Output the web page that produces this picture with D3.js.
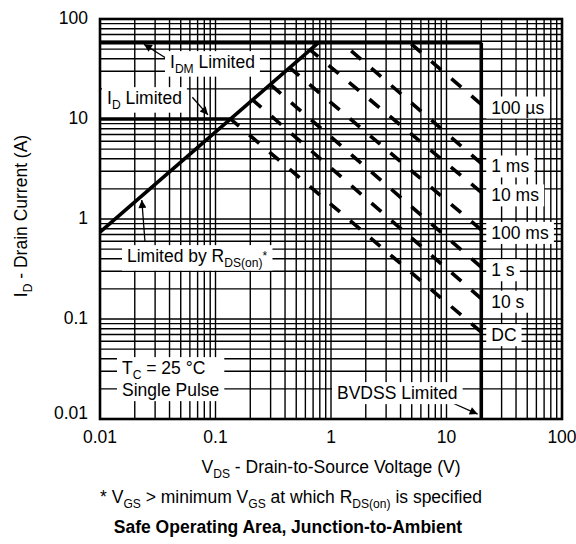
<!DOCTYPE html>
<html>
<head>
<meta charset="utf-8">
<script src="https://d3js.org/d3.v7.min.js"></script>
<style>
  body { margin: 0; background: #fff; }
  text { font-family: "Liberation Sans", Arial, Helvetica, sans-serif; fill: #000; }
</style>
</head>
<body>
<script>
// axis ticks
var xTicks = [0.01, 0.1, 1, 10, 100];
var xTickLabels = ["0.01", "0.1", "1", "10", "100"];
var yTicks = [0.01, 0.1, 1, 10, 100];
var yTickLabels = ["0.01", "0.1", "1", "10", "100"];

// limit lines (V, A)
var rdsV = [0.01, 0.78], rdsI = [0.74, 58];
var idmV = [0.01, 20],   idmI = [58, 58];
var idV  = [0.01, 0.135], idI = [10, 10];
var bvV  = [20, 20],     bvI  = [58, 0.01];

// pulse width lines, start on the limit, end on BVDSS
var pulseLabels = ["100 µs", "1 ms", "10 ms", "100 ms", "1 s", "10 s", "DC"];
var pulseStartV = [4.8, 1.24, 0.66, 0.44, 0.30, 0.21, 0.135];
var pulseStartI = [58, 58, 49, 32.5, 22, 15.5, 10];
var pulseEndV   = [20, 20, 20, 20, 20, 20, 20];
var pulseEndI   = [14, 3.6, 1.85, 0.78, 0.33, 0.16, 0.074];

var W = 576, H = 544;
var pL = 100, pT = 19, pR = 562, pB = 419;
var FS = 17.5;

var svg = d3.select("body").append("svg").attr("width", W).attr("height", H);
var x = d3.scaleLog().domain([0.01, 100]).range([pL, pR]);
var y = d3.scaleLog().domain([0.01, 100]).range([pB, pT]);

// grid: every 1..9 of each decade
var grid = [];
for (var e = -2; e < 2; e++) for (var k = 1; k <= 9; k++) grid.push(+(k * Math.pow(10, e)).toPrecision(3));
grid.push(100);

var g = svg.append("g");
g.selectAll("line.vg").data(grid).enter().append("line")
  .attr("x1", d => x(d)).attr("x2", d => x(d))
  .attr("y1", pT).attr("y2", pB)
  .attr("stroke", "#000").attr("stroke-width", 1.4);
g.selectAll("line.hg").data(grid).enter().append("line")
  .attr("y1", d => y(d)).attr("y2", d => y(d))
  .attr("x1", pL).attr("x2", pR)
  .attr("stroke", "#000").attr("stroke-width", 1.4);

// text with sub/superscripts: parts = [[str, "sub"|"sup"|""], ...]
function rich(sel, parts, size) {
  size = size || FS;
  var sub = size * 0.69, off = size * 0.26;
  var cur = 0;
  parts.forEach(function (p) {
    var t = sel.append("tspan").text(p[0]);
    var want = p[1] === "sub" ? off : p[1] === "sup" ? -size * 0.12 : 0;
    if (want !== cur) t.attr("dy", want - cur);
    if (p[1]) t.attr("font-size", sub);
    cur = want;
  });
  return sel;
}

var lineLayer = svg.append("g");
var textLayer = svg.append("g");

// label centred vertically on py, white box behind it
function boxedText(px, py, lines, anchor) {
  var grp = textLayer.append("g");
  lines.forEach(function (parts, i) {
    var t = grp.append("text")
      .attr("x", px).attr("y", py + i * 22 + FS * 0.35)
      .attr("font-size", FS)
      .attr("text-anchor", anchor || "start");
    rich(t, parts);
  });
  var b = grp.node().getBBox();
  grp.insert("rect", ":first-child")
    .attr("x", b.x - 5).attr("y", b.y - 1)
    .attr("width", b.width + 10).attr("height", b.height + 2)
    .attr("fill", "#fff");
}

// limit lines
var line = d3.line().x(d => x(d[0])).y(d => y(d[1]));
[[rdsV, rdsI], [idmV, idmI], [idV, idI], [bvV, bvI]].forEach(function (s) {
  lineLayer.append("path")
    .attr("d", line(d3.zip(s[0], s[1])))
    .attr("fill", "none").attr("stroke", "#000")
    .attr("stroke-width", 3.6);
});

// pulse lines, drawn from the BVDSS end so a dash touches it
pulseLabels.forEach(function (lab, i) {
  lineLayer.append("path")
    .attr("d", line([[pulseEndV[i], pulseEndI[i]], [pulseStartV[i], pulseStartI[i]]]))
    .attr("fill", "none").attr("stroke", "#000")
    .attr("stroke-width", 3.6).attr("stroke-dasharray", "13,13.5");
});

// frame
svg.append("rect")
  .attr("x", pL).attr("y", pT)
  .attr("width", pR - pL).attr("height", pB - pT)
  .attr("fill", "none").attr("stroke", "#000").attr("stroke-width", 2.6);

// arrows
svg.append("defs").append("marker")
  .attr("id", "ah").attr("viewBox", "0 0 10 10")
  .attr("refX", 10).attr("refY", 5)
  .attr("markerWidth", 10).attr("markerHeight", 8)
  .attr("markerUnits", "userSpaceOnUse")
  .attr("orient", "auto")
  .append("path").attr("d", "M0,0L10,5L0,10z").attr("fill", "#000");

var arrows = [
  [[0.038, 40], [0.024, 56]],
  [[0.063, 16.5], [0.086, 11]],
  [[0.0245, 0.6], [0.023, 1.55]],
  [[10.8, 0.0148], [18.6, 0.0112]]
];
arrows.forEach(function (a) {
  textLayer.append("line")
    .attr("x1", x(a[0][0])).attr("y1", y(a[0][1]))
    .attr("x2", x(a[1][0])).attr("y2", y(a[1][1]))
    .attr("stroke", "#000").attr("stroke-width", 1.3)
    .attr("marker-end", "url(#ah)");
});

// boxed labels
boxedText(170, 62, [[["I", ""], ["DM", "sub"], [" Limited", ""]]]);
boxedText(107, 98, [[["I", ""], ["D", "sub"], [" Limited", ""]]]);
boxedText(127, 256, [[["Limited by R", ""], ["DS(on)", "sub"], ["*", "sup"]]]);
boxedText(122, 368, [[["T", ""], ["C", "sub"], [" = 25 °C", ""]], [["Single Pulse", ""]]]);
boxedText(337, 393, [[["BVDSS Limited", ""]]]);
pulseLabels.forEach(function (lab, i) {
  boxedText(x(20) + 10, y(pulseEndI[i]) + 3, [[[lab, ""]]]);
});

// tick labels
svg.selectAll("text.xt").data(xTicks).enter().append("text")
  .attr("x", d => x(d)).attr("y", pB + 18).attr("dy", "0.35em")
  .attr("text-anchor", "middle").attr("font-size", FS)
  .text((d, i) => xTickLabels[i]);
svg.selectAll("text.yt").data(yTicks).enter().append("text")
  .attr("x", pL - 12).attr("y", (d, i) => y(d) - (i === 0 ? 5 : 0)).attr("dy", "0.3em")
  .attr("text-anchor", "end").attr("font-size", FS)
  .text((d, i) => yTickLabels[i]);

// axis titles
rich(svg.append("text").attr("x", (pL + pR) / 2).attr("y", 473)
  .attr("text-anchor", "middle").attr("font-size", FS),
  [["V", ""], ["DS", "sub"], [" - Drain-to-Source Voltage (V)", ""]]);
rich(svg.append("text").attr("transform", "translate(27," + 216 + ") rotate(-90)")
  .attr("text-anchor", "middle").attr("font-size", FS),
  [["I", ""], ["D", "sub"], [" - Drain Current (A)", ""]]);
rich(svg.append("text").attr("x", 291).attr("y", 503)
  .attr("text-anchor", "middle").attr("font-size", FS),
  [["* V", ""], ["GS", "sub"], [" > minimum V", ""], ["GS", "sub"], [" at which R", ""], ["DS(on)", "sub"], [" is specified", ""]]);
svg.append("text").attr("x", 288).attr("y", 533)
  .attr("text-anchor", "middle").attr("font-size", FS).attr("font-weight", "bold")
  .text("Safe Operating Area, Junction-to-Ambient");
</script>
</body>
</html>
